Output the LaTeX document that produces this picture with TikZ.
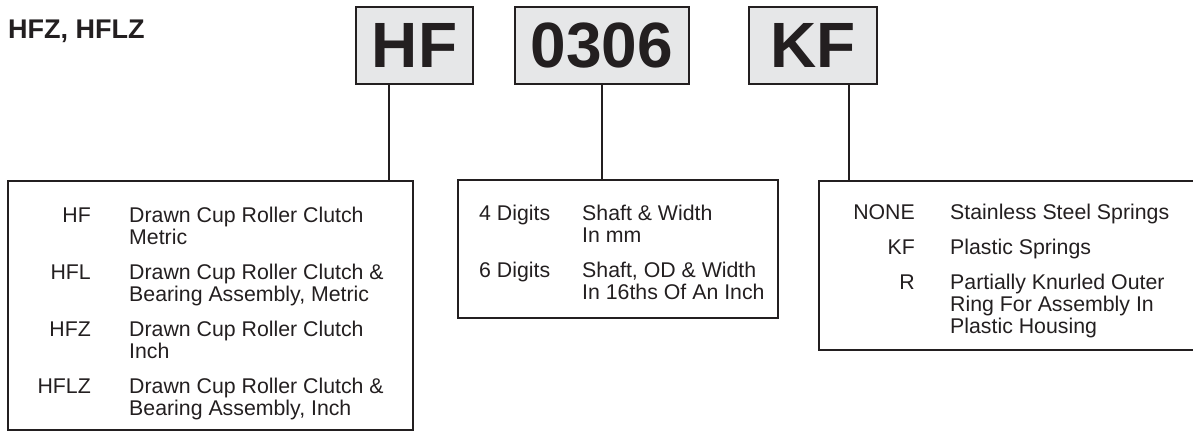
\documentclass[tikz,border=0pt]{standalone}
\usepackage{fontspec}
\setmainfont{Liberation Sans}
\definecolor{ink}{HTML}{231F20}
\definecolor{codegray}{HTML}{E6E7E8}
\tikzset{
  codebox/.style={draw=ink, fill=codegray, line width=1.8pt, minimum height=77pt, inner sep=0pt,
    text=ink, font=\fontsize{64}{64}\selectfont\bfseries},
  listbox/.style={draw=ink, line width=1.8pt, inner sep=0pt},
  key/.style={anchor=base east, inner sep=0pt, text=ink, font=\fontsize{21.3}{22}\selectfont},
  keyleft/.style={key, anchor=base west},
  desc/.style={key, anchor=base west},
  stem/.style={draw=ink, line width=1.8pt}
}
\begin{document}
\begin{tikzpicture}[x=1pt, y=-1pt]
        \useasboundingbox (0,0) rectangle (1193,433);
        \clip (0,0) rectangle (1193,433);
        \node[anchor=base west, inner sep=0pt, text=ink, font=\fontsize{27}{27}\selectfont\bfseries] (title) at (8,38.5) {HFZ, HFLZ};

        % code boxes
        \node[codebox, minimum width=117pt] (hf) at (414.5,45.5) {HF};
        \node[codebox, minimum width=174pt] (size) at (602,45.5) {0306};
        \node[codebox, minimum width=128pt] (spring) at (813,45.5) {KF};

        % lists
        \node[listbox, minimum width=405pt, minimum height=249pt] (hflist) at (210.5,305.5) {};
        \node[listbox, minimum width=320pt, minimum height=138pt] (sizelist) at (618,249) {};
        \node[listbox, minimum width=420pt, minimum height=169pt] (springlist) at (1029,265.5) {};

        \draw[stem] ([xshift=-25.5pt]hf.south) -- ([xshift=-25.5pt]hf.south |- hflist.north);
        \draw[stem] (size.south) -- (size.south |- sizelist.north);
        \draw[stem] ([xshift=36pt]spring.south) -- ([xshift=36pt]spring.south |- springlist.north);

        % type
        \node[key] (khf) at (91,222.5) {HF};
        \node[desc] (dhf) at (129,222.5) {Drawn Cup Roller Clutch};
        \node[desc] (dhf2) at (129,244.5) {Metric};
        \node[key] (khfl) at (91,279.5) {HFL};
        \node[desc] (dhfl) at (129,279.5) {Drawn Cup Roller Clutch \&};
        \node[desc] (dhfl2) at (129,301.5) {Bearing Assembly, Metric};
        \node[key] (khfz) at (91,336.5) {HFZ};
        \node[desc] (dhfz) at (129,336.5) {Drawn Cup Roller Clutch};
        \node[desc] (dhfz2) at (129,358.5) {Inch};
        \node[key] (khflz) at (91,393.5) {HFLZ};
        \node[desc] (dhflz) at (129,393.5) {Drawn Cup Roller Clutch \&};
        \node[desc] (dhflz2) at (129,415.5) {Bearing Assembly, Inch};

        % size
        \node[keyleft] (kfour) at (479,220.5) {4 Digits};
        \node[desc] (dfour) at (582,220.5) {Shaft \& Width};
        \node[desc] (dfour2) at (582,242.5) {In mm};
        \node[keyleft] (ksix) at (479,277.5) {6 Digits};
        \node[desc] (dsix) at (582,277.5) {Shaft, OD \& Width};
        \node[desc] (dsix2) at (582,299.5) {In 16ths Of An Inch};

        % springs
        \node[key] (knone) at (915,219.5) {NONE};
        \node[desc] (dnone) at (950,219.5) {Stainless Steel Springs};
        \node[key] (kkf) at (915,254.5) {KF};
        \node[desc] (dkf) at (950,254.5) {Plastic Springs};
        \node[key] (kr) at (915,289.5) {R};
        \node[desc] (dr) at (950,289.5) {Partially Knurled Outer};
        \node[desc] (dr2) at (950,311.5) {Ring For Assembly In};
        \node[desc] (dr3) at (950,333.5) {Plastic Housing};

        \end{tikzpicture}
\end{document}
